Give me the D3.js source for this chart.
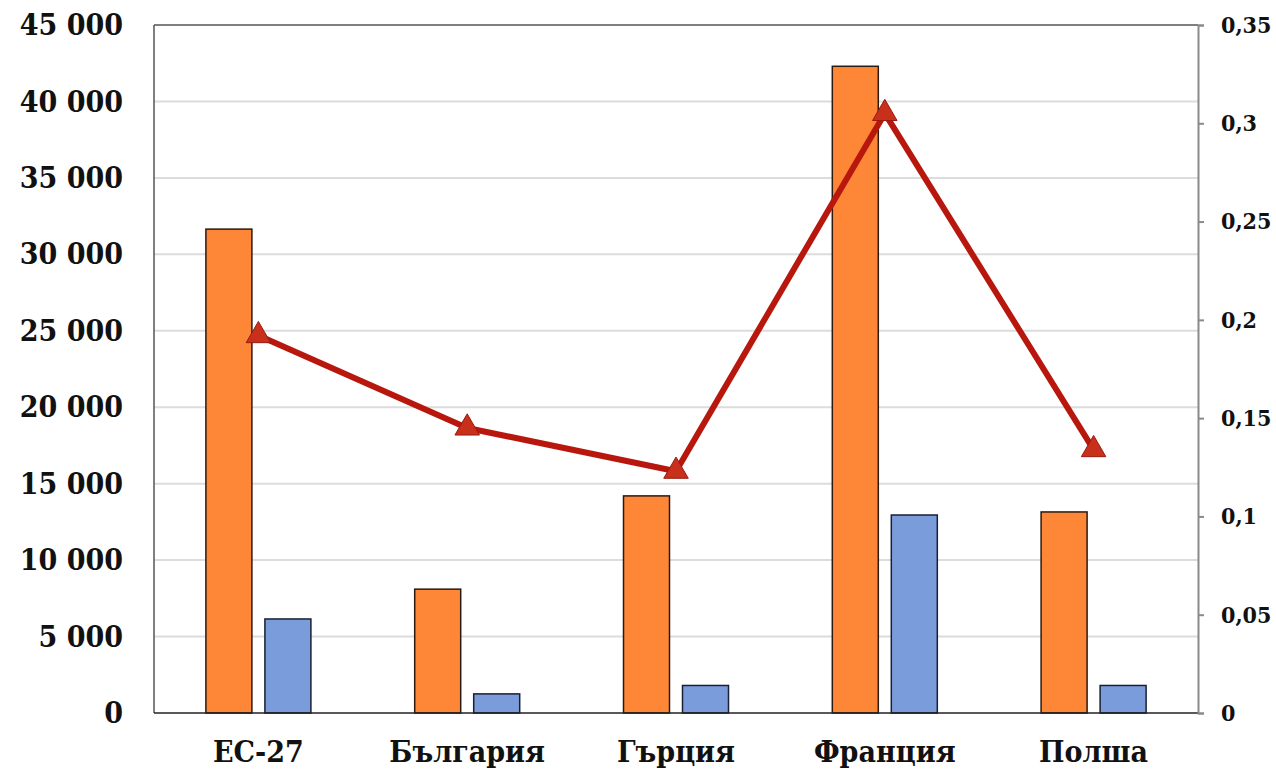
<!DOCTYPE html>
<html>
<head>
<meta charset="utf-8">
<script src="https://cdn.jsdelivr.net/npm/d3@7"></script>
<style>
  html, body { margin: 0; padding: 0; background: #fff; }
  svg { display: block; }
  .lbl { font-family: "DejaVu Serif Condensed", "DejaVu Serif", serif; font-stretch: condensed; font-weight: bold; fill: #111; }
</style>
</head>
<body>
<svg id="chart" width="1276" height="771"></svg>
<script>
// Categories and series
const categories = ["ЕС-27", "България", "Гърция", "Франция", "Полша"];
const orangeValues = [31650, 8100, 14200, 42300, 13150];
const blueValues = [6150, 1250, 1800, 12950, 1800];
const lineValues = [0.192, 0.145, 0.123, 0.305, 0.134];
const leftTicks = [0, 5000, 10000, 15000, 20000, 25000, 30000, 35000, 40000, 45000];
const rightTicks = [0, 0.05, 0.1, 0.15, 0.2, 0.25, 0.3, 0.35];

const svg = d3.select("#chart");
const m = { left: 154, right: 1198, top: 25, bottom: 713 };

const x = d3.scaleBand().domain(categories).range([m.left, m.right]);
const yL = d3.scaleLinear().domain([0, 45000]).range([m.bottom, m.top]);
const yR = d3.scaleLinear().domain([0, 0.35]).range([m.bottom, m.top]);

const fmtL = d => d3.format(",")(d).replace(/,/g, " ");
const fmtR = d => String(+d.toFixed(2)).replace(".", ",");

// Horizontal gridlines
svg.append("g")
  .selectAll("line")
  .data(leftTicks.slice(1, -1))
  .join("line")
  .attr("x1", m.left).attr("x2", m.right)
  .attr("y1", d => yL(d)).attr("y2", d => yL(d))
  .attr("stroke", "#dcdcdc").attr("stroke-width", 2);

// Bars
const barW = 46, gap = 13;
const bars = svg.append("g");
bars.selectAll("rect.o")
  .data(categories)
  .join("rect")
  .attr("class", "o")
  .attr("x", d => x(d) + x.bandwidth() / 2 - gap / 2 - barW)
  .attr("y", (d, i) => yL(orangeValues[i]))
  .attr("width", barW)
  .attr("height", (d, i) => yL(0) - yL(orangeValues[i]))
  .attr("fill", "#fd8737")
  .attr("stroke", "#2a1a10").attr("stroke-width", 1.5);
bars.selectAll("rect.b")
  .data(categories)
  .join("rect")
  .attr("class", "b")
  .attr("x", d => x(d) + x.bandwidth() / 2 + gap / 2)
  .attr("y", (d, i) => yL(blueValues[i]))
  .attr("width", barW)
  .attr("height", (d, i) => yL(0) - yL(blueValues[i]))
  .attr("fill", "#7a9cdb")
  .attr("stroke", "#1a1f33").attr("stroke-width", 1.5);

// Frame: top line and left axis line
svg.append("line").attr("x1", m.left).attr("x2", m.right).attr("y1", m.top).attr("y2", m.top)
  .attr("stroke", "#555").attr("stroke-width", 1.5);
svg.append("line").attr("x1", m.left).attr("x2", m.left).attr("y1", m.top).attr("y2", m.bottom)
  .attr("stroke", "#555").attr("stroke-width", 1.5);

// Bottom axis line
svg.append("line").attr("x1", m.left).attr("x2", m.right).attr("y1", m.bottom).attr("y2", m.bottom)
  .attr("stroke", "#222").attr("stroke-width", 1.5);

// Right axis
const rAxis = svg.append("g")
  .attr("transform", `translate(${m.right},0)`)
  .call(d3.axisRight(yR).tickValues(rightTicks).tickFormat(fmtR).tickSize(6).tickPadding(17));
rAxis.select(".domain").attr("stroke", "#8a8a8a").attr("stroke-width", 2);
rAxis.selectAll(".tick line").attr("stroke", "#8a8a8a").attr("stroke-width", 2);
rAxis.selectAll(".tick text").attr("class", "lbl").style("font-size", "23px").attr("fill", "#111");

// Left axis labels
const lAxis = svg.append("g")
  .attr("transform", `translate(${m.left},0)`)
  .call(d3.axisLeft(yL).tickValues(leftTicks).tickFormat(fmtL).tickSize(0).tickPadding(31));
lAxis.select(".domain").remove();
lAxis.selectAll(".tick text").attr("class", "lbl").style("font-size", "30px").attr("fill", "#111");

// Category labels
const xAxis = svg.append("g")
  .attr("transform", `translate(0,${m.bottom})`)
  .call(d3.axisBottom(x).tickSize(0).tickPadding(28));
xAxis.select(".domain").remove();
xAxis.selectAll(".tick text").attr("class", "lbl").style("font-size", "30px").attr("fill", "#111");

// Line series on the right axis
const cx = d => x(d) + x.bandwidth() / 2;
const line = d3.line().x((d, i) => cx(categories[i])).y(d => yR(d));
svg.append("path")
  .datum(lineValues)
  .attr("d", line)
  .attr("fill", "none")
  .attr("stroke", "#b8170e")
  .attr("stroke-width", 6)
  .attr("stroke-linejoin", "round");

const tri = d3.symbol().type(d3.symbolTriangle).size(260);
svg.append("g")
  .selectAll("path")
  .data(lineValues)
  .join("path")
  .attr("transform", (d, i) => `translate(${cx(categories[i])},${yR(d)})`)
  .attr("d", tri)
  .attr("fill", "#c9301c")
  .attr("stroke", "#9a1a10").attr("stroke-width", 1);
</script>
</body>
</html>
